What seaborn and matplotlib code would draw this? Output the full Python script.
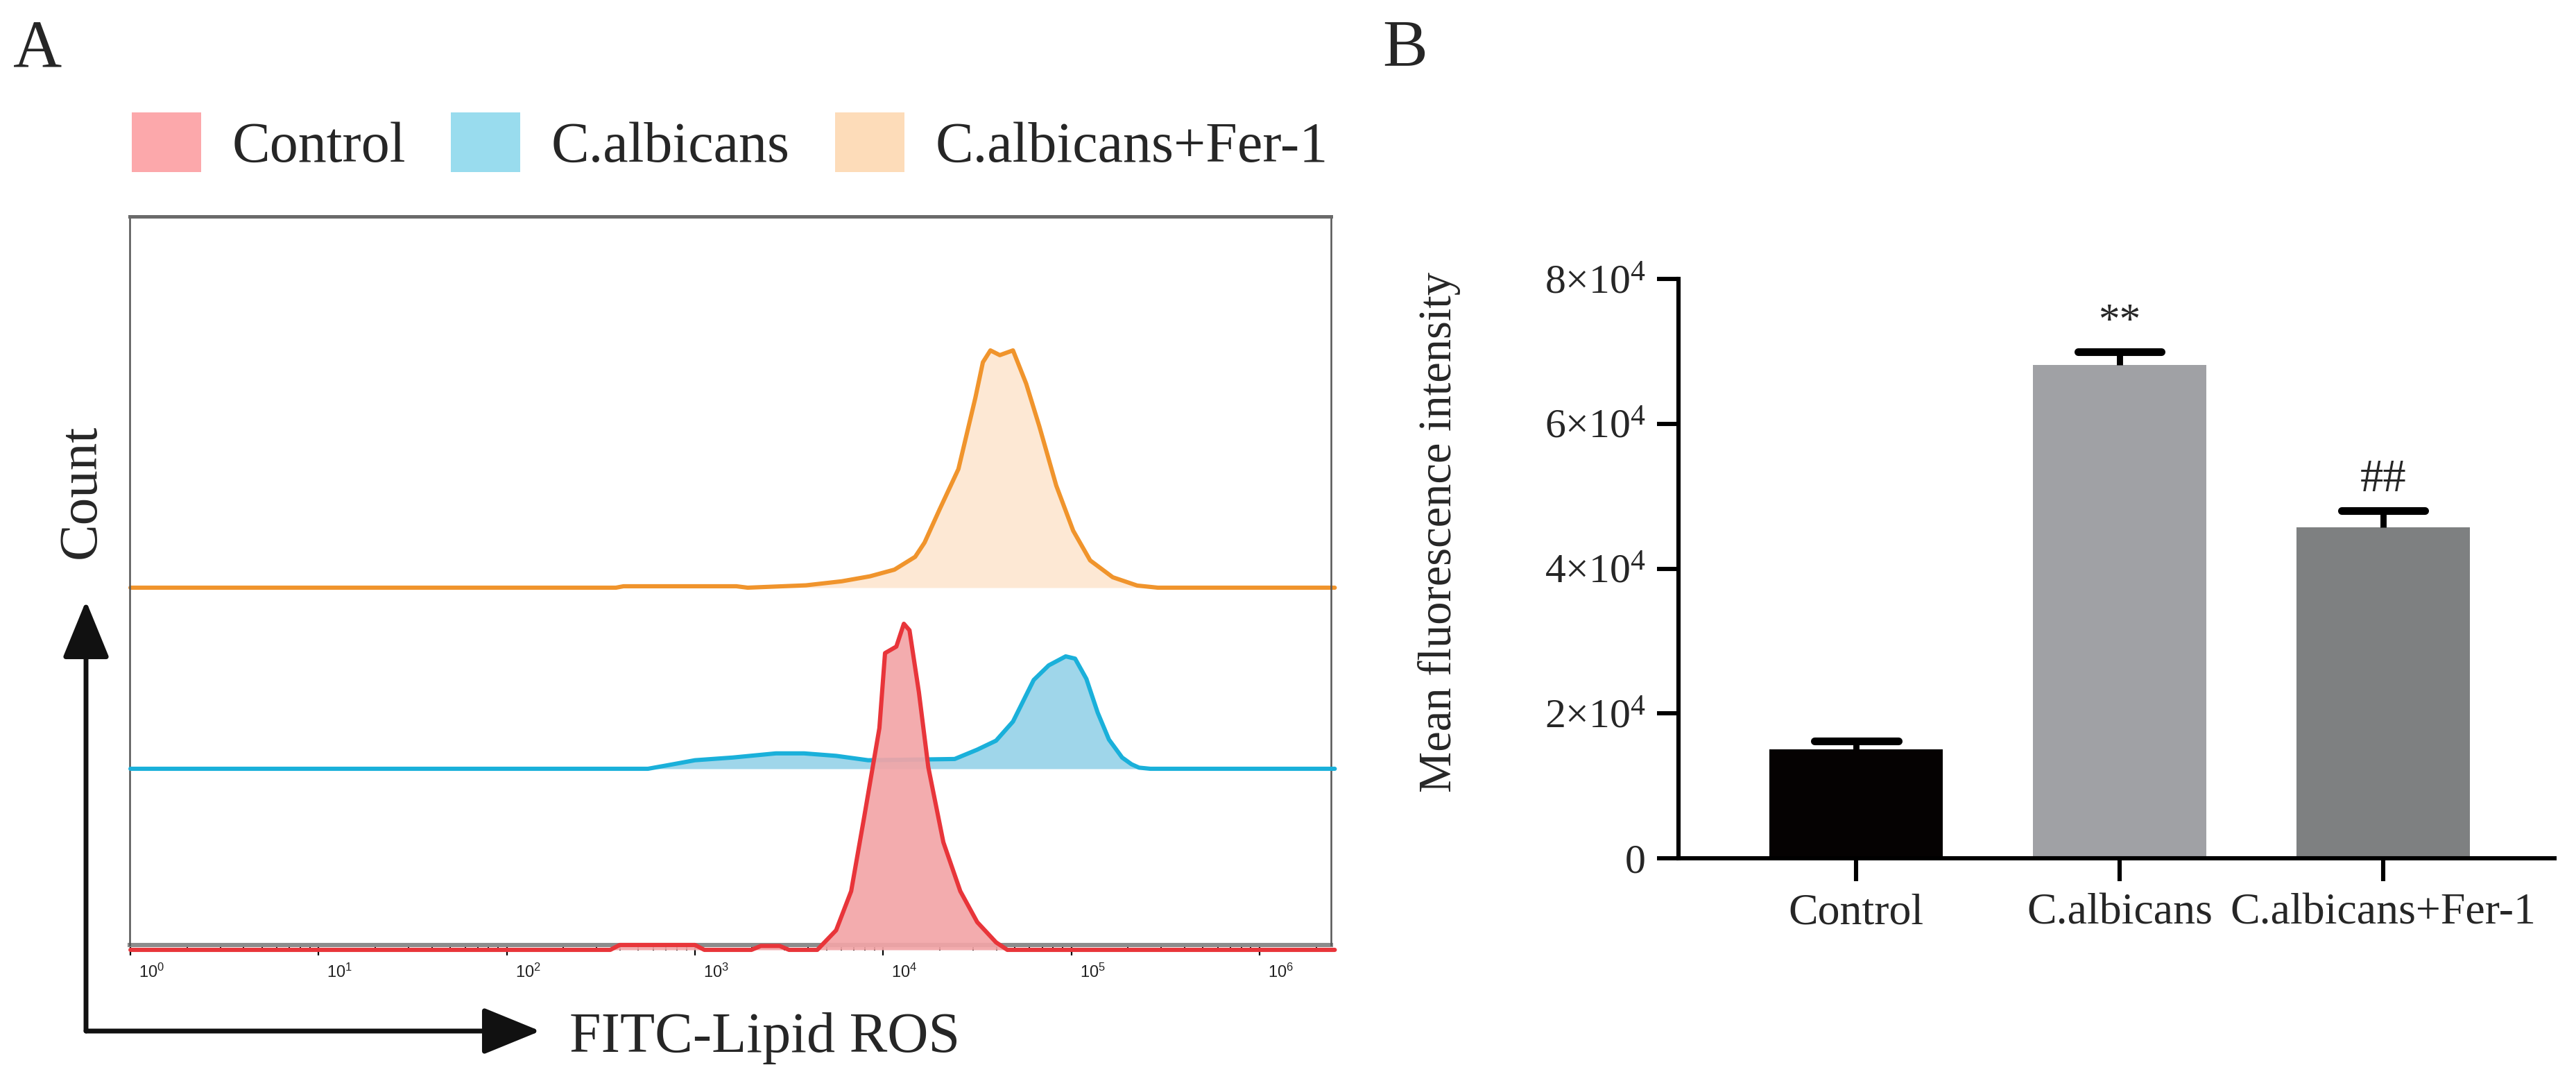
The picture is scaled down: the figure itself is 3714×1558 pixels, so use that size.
import numpy as np
import pandas as pd
import matplotlib
matplotlib.use("Agg")
import matplotlib.pyplot as plt
import matplotlib.transforms as mtransforms
from matplotlib.patches import Patch, FancyArrowPatch, ArrowStyle
from matplotlib.ticker import FixedLocator, LogLocator, NullFormatter
import seaborn as sns

# ------------------------------------------------------------------ data
hist_groups = ["Control", "C.albicans", "C.albicans+Fer-1"]

# log10(FITC intensity) and normalised count (peak = 1)
control_log = [0.0, 2.55, 2.6, 3.0, 3.05, 3.3, 3.35, 3.45, 3.5, 3.65, 3.75, 3.83, 3.9,
               3.98, 4.01, 4.07, 4.11, 4.14, 4.19, 4.24, 4.32, 4.41, 4.5, 4.6, 4.66, 6.4]
control_h = [0, 0, 0.015, 0.015, 0, 0, 0.012, 0.012, 0, 0, 0.06, 0.18, 0.41,
             0.68, 0.91, 0.93, 1.0, 0.98, 0.79, 0.56, 0.33, 0.18, 0.085, 0.023, 0, 0]

calb_log = [0.0, 2.75, 2.85, 3.0, 3.2, 3.43, 3.58, 3.75, 3.92, 4.1, 4.38, 4.5, 4.6,
            4.69, 4.8, 4.88, 4.97, 5.02, 5.08, 5.14, 5.2, 5.27, 5.32, 5.36, 5.42, 6.4]
calb_h = [0, 0, 0.03, 0.076, 0.1, 0.137, 0.137, 0.115, 0.076, 0.08, 0.087, 0.17, 0.25,
          0.42, 0.79, 0.92, 1.0, 0.98, 0.8, 0.5, 0.26, 0.1, 0.04, 0.01, 0, 0]

fer_log = [0.0, 2.58, 2.62, 3.22, 3.28, 3.59, 3.78, 3.93, 4.06, 4.17, 4.22, 4.3, 4.4,
           4.49, 4.53, 4.57, 4.62, 4.69, 4.76, 4.83, 4.92, 5.01, 5.1, 5.22, 5.35, 5.46, 6.4]
fer_h = [0, 0, 0.006, 0.006, 0, 0.01, 0.027, 0.048, 0.076, 0.13, 0.19, 0.33, 0.5,
         0.8, 0.95, 1.0, 0.98, 1.0, 0.86, 0.68, 0.43, 0.24, 0.115, 0.044, 0.009, 0, 0]

peak_counts = [470, 162, 342]          # peak height of each histogram (axis units)
decades = [0, 1, 2, 3, 4, 5, 6]

bar_groups = ["Control", "C.albicans", "C.albicans+Fer-1"]
mfi_mean = [15050, 68150, 45700]
mfi_err = [1150, 1750, 2300]
sig_labels = ["", "**", "##"]
ytick_vals = [0, 20000, 40000, 60000, 80000]
ytick_labels = ["0", r"$2{\times}10^{4}$", r"$4{\times}10^{4}$",
                r"$6{\times}10^{4}$", r"$8{\times}10^{4}$"]

# ------------------------------------------------------------------ style
sns.set_style("white")
plt.rcParams["font.family"] = ["Liberation Serif", "DejaVu Serif"]
plt.rcParams["mathtext.fontset"] = "custom"
plt.rcParams["mathtext.rm"] = "Liberation Serif"
plt.rcParams["mathtext.sf"] = "Liberation Sans"
plt.rcParams["mathtext.it"] = "Liberation Serif:italic"

W, H = 3714, 1558
DPI = 200
fig = plt.figure(figsize=(W / DPI, H / DPI), dpi=DPI)
fig.patch.set_facecolor("white")


def fx(px):
    return px / W


def fy(py):
    return 1 - py / H


# ------------------------------------------------------------------ panel A
axA = fig.add_axes([fx(187), fy(1362), fx(1919 - 187), (1362 - 312) / H])
axA.set_xscale("log")
axA.set_xlim(10 ** -0.004, 10 ** 6.38)
axA.set_ylim(0, 1050)

line_cols = {"Control": "#e8353a", "C.albicans": "#1ab0da", "C.albicans+Fer-1": "#f0942c"}
fill_cols = {"Control": "#f2a5a7", "C.albicans": "#9fd6ea", "C.albicans+Fer-1": "#fde8d4"}
baselines = {"Control": -7, "C.albicans": 254, "C.albicans+Fer-1": 515}
series = {"Control": (control_log, control_h, peak_counts[0]),
          "C.albicans": (calb_log, calb_h, peak_counts[1]),
          "C.albicans+Fer-1": (fer_log, fer_h, peak_counts[2])}

for order, g in enumerate(["C.albicans+Fer-1", "C.albicans", "Control"]):
    lg, hh, pk = series[g]
    x = 10 ** np.asarray(lg, dtype=float)
    y = baselines[g] + pk * np.asarray(hh, dtype=float)
    alpha = 0.92 if g == "Control" else 1.0
    axA.fill_between(x, baselines[g], y, color=fill_cols[g], lw=0, alpha=alpha,
                     zorder=2 + order, clip_on=False)
    axA.plot(x, y, color=line_cols[g], lw=2.2, zorder=2.5 + order, clip_on=False,
             solid_joinstyle="round")

axA.set_yticks([])
axA.xaxis.set_major_locator(FixedLocator([10.0 ** d for d in decades]))
axA.xaxis.set_minor_locator(LogLocator(base=10, subs=np.arange(2, 10)))
axA.xaxis.set_minor_formatter(NullFormatter())
axA.set_xticklabels([r"$\mathsf{10^{%d}}$" % d for d in decades])
axA.tick_params(axis="x", which="major", direction="out", length=5.5, width=0.8,
                color="black", labelsize=8.5, pad=4, labelcolor="#222222", bottom=True)
axA.tick_params(axis="x", which="minor", direction="out", length=3, width=0.7,
                color="black", bottom=True)
offset = mtransforms.ScaledTranslation(12 / DPI, 0, fig.dpi_scale_trans)
for lab in axA.get_xticklabels():
    lab.set_horizontalalignment("left")
    lab.set_transform(lab.get_transform() + offset)

axA.spines["top"].set(color="#6a6a6a", lw=1.8)
axA.spines["left"].set(color="#555555", lw=0.9)
axA.spines["right"].set(color="#555555", lw=0.9)
axA.spines["bottom"].set(color="#8c8c8c", lw=2.2)
axA.spines["bottom"].set_zorder(1)

# legend
handles = [Patch(facecolor=c, edgecolor="none") for c in ["#fca8ab", "#99dcee", "#fddcb9"]]
fig.legend(handles, hist_groups, loc="upper left", bbox_to_anchor=(fx(190), fy(162)),
           ncol=3, frameon=False, fontsize=29.5, handlelength=1.22, handleheight=1.23,
           handletextpad=0.54, columnspacing=0.8, borderpad=0, borderaxespad=0)

# arrows and axis titles
arrow_style = ArrowStyle("-|>", head_length=25.7, head_width=10.5)
for end in [(124, 866), (779, 1486)]:
    arr = FancyArrowPatch(posA=(fx(124), fy(1486)), posB=(fx(end[0]), fy(end[1])),
                          transform=fig.transFigure, arrowstyle=arrow_style,
                          mutation_scale=1, lw=2.5, color="#111111",
                          shrinkA=0, shrinkB=0)
    fig.add_artist(arr)
fig.text(fx(118), fy(708), "Count", rotation=90, ha="center", va="center", fontsize=28.5)
fig.text(fx(821), fy(1496), "FITC-Lipid ROS", ha="left", va="center", fontsize=29.5)
fig.text(fx(19), fy(95), "A", ha="left", va="baseline", fontsize=35)
fig.text(fx(1993), fy(95), "B", ha="left", va="baseline", fontsize=35)

# ------------------------------------------------------------------ panel B
axB = fig.add_axes([fx(2420), fy(1237), fx(3683 - 2420), (1237 - 402) / H])
df = pd.DataFrame({"group": bar_groups, "mfi": mfi_mean})
bar_colors = ["#050202", "#a0a1a5", "#7e8081"]
sns.barplot(data=df, x="group", y="mfi", hue="group", palette=bar_colors,
            width=0.66, errorbar=None, legend=False, saturation=1, linewidth=0,
            ax=axB, zorder=2)
xpos = np.arange(len(bar_groups))
means = np.asarray(mfi_mean, dtype=float)
errs = np.asarray(mfi_err, dtype=float)
axB.errorbar(xpos, means, yerr=[np.zeros_like(errs), errs], fmt="none",
             ecolor="black", elinewidth=3.2, capsize=0, zorder=3)
caps = axB.hlines(means + errs, xpos - 0.159, xpos + 0.159, colors="black", lw=4, zorder=3)
caps.set_capstyle("round")
for i, s in enumerate(sig_labels):
    if s:
        axB.text(xpos[i], means[i] + errs[i] + 2700, s, ha="center", va="baseline",
                 fontsize=22 if s == "**" else 24)

axB.set_xlim(-0.674, 2.65)
axB.set_ylim(0, 80000)
axB.set_yticks(ytick_vals)
axB.set_yticklabels(ytick_labels)
axB.set_xlabel("")
axB.set_ylabel("Mean fluorescence intensity", fontsize=24)
axB.yaxis.set_label_coords(-0.2486, 0.563)
for side in ["top", "right"]:
    axB.spines[side].set_visible(False)
for side in ["left", "bottom"]:
    axB.spines[side].set(color="black", lw=2.2)
axB.tick_params(axis="y", direction="out", length=11, width=2.2, labelsize=21.5,
                pad=6, left=True, color="black")
axB.tick_params(axis="x", direction="out", length=12, width=2.2, labelsize=23,
                pad=6, bottom=True, color="black")

fig.savefig("out.png", dpi=DPI, facecolor="white")
